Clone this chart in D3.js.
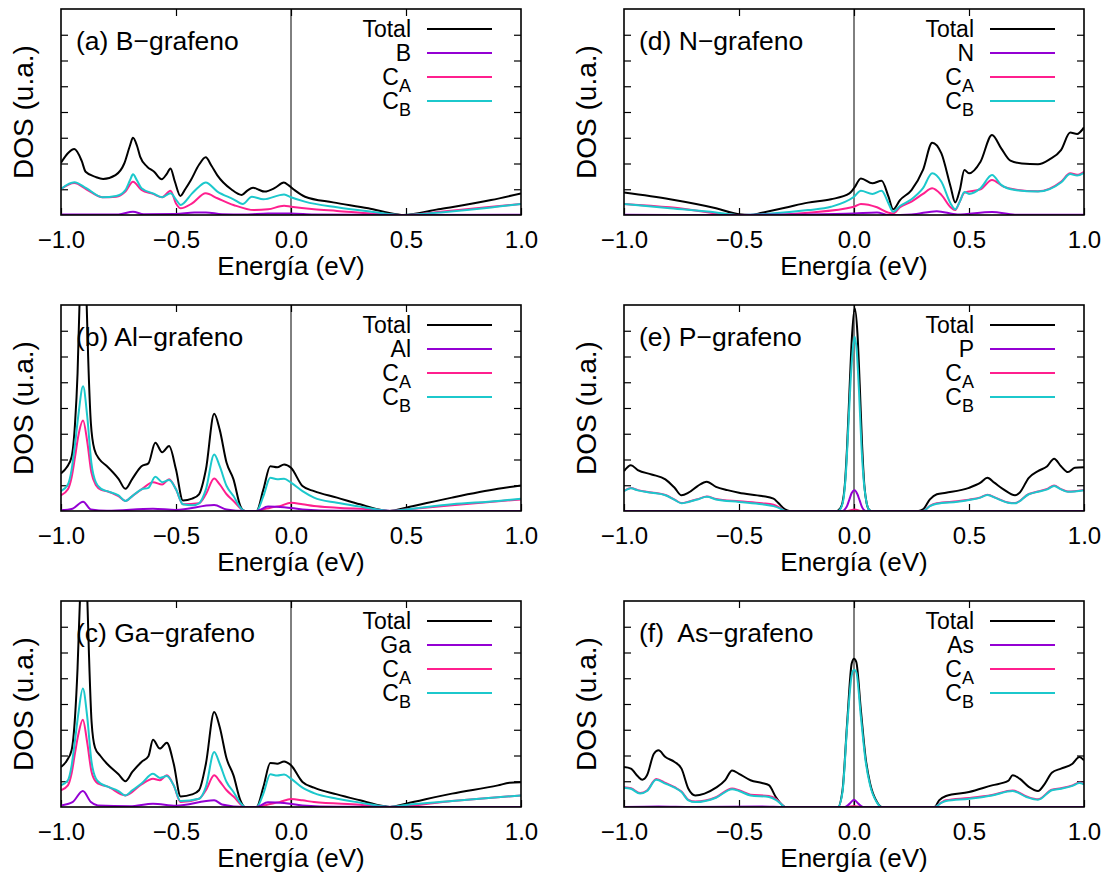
<!DOCTYPE html>
<html>
<head>
<meta charset="utf-8">
<script src="https://cdn.jsdelivr.net/npm/d3@7"></script>
<style>
  html, body { margin: 0; padding: 0; background: #fff; }
  svg text { font-family: "Liberation Sans", Arial, Helvetica, sans-serif; fill: #000; }
</style>
</head>
<body>
<svg id="chart" width="1103" height="876"></svg>
<script>
// ---- axis ticks ----
const energyTicks = [-1, -0.5, 0, 0.5, 1];
const energyTickLabels = ["\u22121.0", "\u22120.5", "0.0", "0.5", "1.0"];
const dosTicks = [1, 2, 3, 4, 5, 6, 7];
const xLabel = "Energía (eV)";
const yLabel = "DOS (u.a.)";

// ---- panel titles and dopant names ----
const panelTitles = ["(a) B\u2212grafeno", "(b) Al\u2212grafeno", "(c) Ga\u2212grafeno",
                     "(d) N\u2212grafeno", "(e) P\u2212grafeno", "(f)  As\u2212grafeno"];
const dopants = ["B", "Al", "Ga", "N", "P", "As"];

// ---- (a) B-grafeno : [E (eV), DOS] ----
const bTotal = [[-1,2.03],[-0.97,2.4],[-0.942,2.56],[-0.91,2.1],[-0.893,1.68],[-0.85,1.48],[-0.817,1.40],[-0.763,1.55],[-0.725,2.0],[-0.70,2.7],[-0.687,3.0],[-0.67,2.7],[-0.656,2.27],[-0.626,1.88],[-0.595,1.68],[-0.562,1.39],[-0.54,1.6],[-0.524,1.81],[-0.505,1.3],[-0.481,0.74],[-0.46,1.0],[-0.435,1.36],[-0.40,1.95],[-0.371,2.24],[-0.345,1.9],[-0.321,1.55],[-0.26,1.0],[-0.214,0.78],[-0.19,0.95],[-0.165,1.06],[-0.14,0.98],[-0.115,0.91],[-0.07,1.05],[-0.031,1.26],[-0.01,1.15],[0.015,0.97],[0.061,0.71],[0.183,0.49],[0.336,0.26],[0.458,0.03],[0.49,0],[0.641,0.22],[0.87,0.58],[1.0,0.84]];
const bDopant = [[-1,0.02],[-0.75,0.02],[-0.687,0.13],[-0.64,0.03],[-0.5,0.04],[-0.42,0.10],[-0.37,0.10],[-0.3,0.03],[-0.2,0.02],[-0.1,0.06],[0,0.06],[0.1,0.02],[0.49,0],[1,0.01]];
const bCA = [[-1,1.01],[-0.942,1.24],[-0.89,1.0],[-0.82,0.69],[-0.76,0.71],[-0.72,0.91],[-0.687,1.29],[-0.65,0.97],[-0.60,0.82],[-0.56,0.69],[-0.524,0.94],[-0.50,0.45],[-0.48,0.26],[-0.43,0.45],[-0.371,0.84],[-0.32,0.65],[-0.25,0.39],[-0.16,0.19],[-0.1,0.22],[-0.03,0.36],[0,0.32],[0.1,0.22],[0.2,0.16],[0.35,0.06],[0.49,0],[0.65,0.13],[0.85,0.30],[1,0.43]];
const bCB = [[-1,1.01],[-0.942,1.27],[-0.89,1.04],[-0.82,0.69],[-0.76,0.74],[-0.72,0.97],[-0.70,1.35],[-0.687,1.58],[-0.67,1.35],[-0.65,1.04],[-0.60,0.84],[-0.56,0.69],[-0.524,0.84],[-0.50,0.6],[-0.48,0.39],[-0.43,0.84],[-0.40,1.1],[-0.371,1.26],[-0.32,0.91],[-0.25,0.61],[-0.21,0.43],[-0.17,0.71],[-0.12,0.61],[-0.03,0.80],[0,0.69],[0.06,0.52],[0.2,0.30],[0.35,0.13],[0.49,0],[0.65,0.10],[0.85,0.27],[1,0.43]];

// ---- (b) Al-grafeno ----
const alTotal = [[-1,1.46],[-0.975,1.7],[-0.954,2.1],[-0.939,3.4],[-0.928,5.35],[-0.919,8.2],[-0.905,10.5],[-0.889,8.2],[-0.882,6.0],[-0.870,3.4],[-0.855,2.4],[-0.832,2.0],[-0.8,1.74],[-0.75,1.25],[-0.72,0.86],[-0.69,1.25],[-0.65,1.74],[-0.62,1.85],[-0.59,2.65],[-0.56,2.28],[-0.53,2.52],[-0.5,1.61],[-0.47,0.41],[-0.43,0.48],[-0.4,0.65],[-0.37,1.61],[-0.334,3.78],[-0.31,3.16],[-0.28,1.87],[-0.25,1.23],[-0.22,0.19],[-0.2,0],[-0.15,0],[-0.12,0.84],[-0.09,1.74],[-0.06,1.70],[-0.03,1.81],[0,1.68],[0.05,0.97],[0.1,0.77],[0.2,0.52],[0.3,0.26],[0.4,0.03],[0.43,0],[0.5,0.13],[0.7,0.52],[0.9,0.86],[1,0.99]];
const alDopant = [[-1,0.03],[-0.95,0.09],[-0.904,0.36],[-0.87,0.06],[-0.8,0.01],[-0.6,0.09],[-0.5,0.04],[-0.334,0.23],[-0.28,0.06],[-0.2,0],[-0.15,0],[-0.1,0.17],[-0.03,0.15],[0.05,0.06],[0.2,0.01],[1,0]];
const alCA = [[-1,0.61],[-0.97,0.84],[-0.954,1.3],[-0.939,2.1],[-0.925,2.9],[-0.904,3.51],[-0.886,2.7],[-0.868,1.5],[-0.848,1.0],[-0.825,0.82],[-0.8,0.77],[-0.75,0.58],[-0.72,0.39],[-0.69,0.58],[-0.65,0.84],[-0.6,1.12],[-0.56,1.03],[-0.53,1.23],[-0.5,0.84],[-0.47,0.26],[-0.4,0.30],[-0.37,0.65],[-0.334,1.26],[-0.31,1.03],[-0.28,0.65],[-0.25,0.39],[-0.2,0],[-0.15,0],[-0.12,0.06],[-0.09,0.13],[-0.05,0.19],[0,0.32],[0.05,0.26],[0.1,0.19],[0.2,0.13],[0.4,0.03],[0.43,0],[0.5,0.06],[0.7,0.22],[1,0.45]];
const alCB = [[-1,0.77],[-0.97,1.03],[-0.954,1.6],[-0.939,2.6],[-0.925,3.68],[-0.904,4.84],[-0.886,3.68],[-0.868,1.87],[-0.848,1.1],[-0.825,0.86],[-0.8,0.77],[-0.75,0.61],[-0.72,0.39],[-0.69,0.58],[-0.65,0.84],[-0.62,0.90],[-0.59,1.33],[-0.56,1.12],[-0.53,1.20],[-0.5,0.84],[-0.47,0.26],[-0.43,0.22],[-0.4,0.30],[-0.37,0.84],[-0.334,2.19],[-0.31,1.74],[-0.28,0.97],[-0.25,0.58],[-0.22,0.13],[-0.2,0],[-0.15,0],[-0.12,0.58],[-0.09,1.29],[-0.06,1.23],[-0.03,1.25],[0,1.10],[0.05,0.77],[0.1,0.52],[0.2,0.32],[0.3,0.17],[0.4,0.03],[0.43,0],[0.5,0.06],[0.7,0.26],[0.9,0.39],[1,0.48]];

// ---- (c) Ga-grafeno ----
const gaTotal = [[-1,1.55],[-0.975,1.8],[-0.954,2.2],[-0.939,3.5],[-0.928,5.4],[-0.917,8.2],[-0.902,10.5],[-0.886,8.2],[-0.879,6.1],[-0.867,3.3],[-0.852,2.3],[-0.83,2.0],[-0.8,1.68],[-0.75,1.27],[-0.72,1.0],[-0.69,1.36],[-0.65,1.75],[-0.62,1.97],[-0.6,2.61],[-0.57,2.27],[-0.54,2.50],[-0.51,1.68],[-0.48,0.41],[-0.43,0.49],[-0.4,0.65],[-0.37,1.68],[-0.334,3.69],[-0.31,3.11],[-0.28,1.88],[-0.25,1.23],[-0.22,0.26],[-0.2,0],[-0.15,0],[-0.12,0.78],[-0.09,1.71],[-0.06,1.68],[-0.03,1.77],[0,1.62],[0.05,0.97],[0.1,0.75],[0.2,0.49],[0.3,0.26],[0.4,0.04],[0.43,0],[0.5,0.13],[0.7,0.52],[0.9,0.84],[0.95,0.94],[1,0.96]];
const gaDopant = [[-1,0.06],[-0.95,0.19],[-0.905,0.62],[-0.87,0.19],[-0.84,0.06],[-0.7,0.03],[-0.6,0.13],[-0.5,0.05],[-0.334,0.26],[-0.3,0.1],[-0.2,0],[-0.15,0],[-0.1,0.18],[-0.03,0.16],[0.05,0.06],[0.2,0.01],[1,0]];
const gaCA = [[-1,0.65],[-0.97,0.84],[-0.954,1.3],[-0.939,2.1],[-0.925,2.8],[-0.905,3.39],[-0.886,2.5],[-0.868,1.4],[-0.848,0.98],[-0.825,0.86],[-0.8,0.80],[-0.72,0.45],[-0.65,0.88],[-0.6,1.10],[-0.57,1.04],[-0.54,1.23],[-0.51,0.84],[-0.48,0.19],[-0.4,0.32],[-0.37,0.65],[-0.334,1.23],[-0.31,1.0],[-0.28,0.65],[-0.25,0.41],[-0.2,0],[-0.15,0],[-0.1,0.1],[-0.05,0.19],[0,0.31],[0.05,0.26],[0.1,0.19],[0.3,0.09],[0.43,0],[0.7,0.23],[1,0.45]];
const gaCB = [[-1,0.84],[-0.97,1.04],[-0.954,1.6],[-0.939,2.6],[-0.925,3.6],[-0.905,4.60],[-0.886,3.5],[-0.868,1.8],[-0.848,1.1],[-0.825,0.9],[-0.8,0.80],[-0.75,0.62],[-0.72,0.45],[-0.69,0.65],[-0.65,0.91],[-0.6,1.29],[-0.57,1.13],[-0.54,1.20],[-0.51,0.84],[-0.48,0.23],[-0.4,0.32],[-0.37,0.78],[-0.334,2.14],[-0.31,1.68],[-0.28,0.97],[-0.25,0.58],[-0.22,0.16],[-0.2,0],[-0.15,0],[-0.12,0.52],[-0.09,1.27],[-0.06,1.22],[-0.03,1.26],[0,1.10],[0.05,0.75],[0.1,0.54],[0.2,0.32],[0.3,0.17],[0.4,0.03],[0.43,0],[0.5,0.08],[0.7,0.23],[1,0.45]];

// ---- (d) N-grafeno ----
const nTotal = [[-1,0.87],[-0.8,0.61],[-0.6,0.26],[-0.5,0.03],[-0.45,0],[-0.4,0.09],[-0.3,0.28],[-0.2,0.48],[-0.1,0.61],[-0.02,0.84],[0,1.04],[0.03,1.42],[0.08,1.23],[0.12,1.33],[0.15,0.71],[0.17,0.22],[0.2,0.58],[0.25,0.97],[0.3,1.75],[0.34,2.81],[0.38,2.39],[0.42,1.10],[0.44,0.49],[0.46,0.97],[0.48,1.75],[0.5,1.62],[0.55,2.07],[0.6,3.11],[0.64,2.59],[0.68,2.11],[0.73,2.0],[0.8,1.97],[0.85,2.16],[0.9,2.52],[0.94,3.2],[0.97,3.15],[1,3.4]];
const nDopant = [[-1,0.01],[-0.5,0],[-0.2,0.02],[0,0.06],[0.1,0.1],[0.15,0],[0.25,0.02],[0.36,0.15],[0.45,0.02],[0.6,0.12],[0.7,0.01],[1,0.01]];
const nCA = [[-1,0.43],[-0.8,0.30],[-0.5,0],[-0.4,0],[-0.2,0.09],[0,0.32],[0.03,0.43],[0.1,0.30],[0.15,0.09],[0.17,0.06],[0.2,0.30],[0.25,0.52],[0.3,0.82],[0.34,1.04],[0.38,0.78],[0.42,0.30],[0.44,0.19],[0.46,0.52],[0.48,0.87],[0.55,1.0],[0.6,1.36],[0.65,1.10],[0.7,0.99],[0.8,0.92],[0.9,1.29],[0.94,1.62],[0.97,1.56],[1,1.68]];
const nCB = [[-1,0.43],[-0.8,0.26],[-0.6,0.10],[-0.5,0],[-0.4,0.03],[-0.2,0.19],[-0.1,0.32],[0,0.71],[0.03,0.94],[0.08,0.82],[0.12,0.94],[0.15,0.45],[0.17,0.13],[0.2,0.35],[0.25,0.61],[0.3,1.04],[0.34,1.62],[0.38,1.29],[0.42,0.45],[0.44,0.22],[0.46,0.52],[0.48,0.89],[0.5,0.82],[0.55,1.04],[0.6,1.55],[0.64,1.17],[0.7,0.97],[0.8,0.91],[0.9,1.26],[0.94,1.59],[0.97,1.53],[1,1.64]];

// ---- (e) P-grafeno ----
const pTotal = [[-1,1.55],[-0.97,1.78],[-0.94,1.59],[-0.88,1.42],[-0.82,1.23],[-0.78,0.90],[-0.75,0.61],[-0.72,0.71],[-0.68,0.97],[-0.64,1.14],[-0.6,0.94],[-0.55,0.81],[-0.5,0.71],[-0.4,0.58],[-0.35,0.48],[-0.33,0.32],[-0.3,0.06],[-0.28,0],[-0.075,0],[-0.06,0.1],[-0.05,0.32],[-0.04,1.0],[-0.03,2.5],[-0.02,4.6],[-0.01,6.6],[0.003,7.87],[0.015,6.9],[0.025,4.9],[0.035,2.6],[0.045,1.0],[0.055,0.3],[0.065,0.05],[0.075,0],[0.28,0],[0.3,0.06],[0.33,0.45],[0.36,0.65],[0.4,0.71],[0.5,0.90],[0.55,1.10],[0.58,1.29],[0.61,1.10],[0.65,0.84],[0.7,0.61],[0.72,0.71],[0.76,1.29],[0.8,1.55],[0.84,1.74],[0.87,2.03],[0.9,1.74],[0.93,1.51],[0.96,1.68],[1,1.70]];
const pDopant = [[-1,0],[-0.05,0],[-0.04,0.06],[-0.03,0.2],[-0.02,0.45],[-0.01,0.7],[0.003,0.81],[0.015,0.65],[0.025,0.4],[0.035,0.15],[0.045,0.03],[0.055,0],[1,0]];
const pCA = [[-1,0.78],[-0.97,0.89],[-0.94,0.81],[-0.88,0.72],[-0.82,0.62],[-0.78,0.44],[-0.75,0.31],[-0.72,0.36],[-0.68,0.46],[-0.64,0.56],[-0.6,0.47],[-0.5,0.38],[-0.4,0.30],[-0.35,0.24],[-0.32,0.11],[-0.3,0],[-0.03,0],[0.003,0.06],[0.03,0],[0.3,0],[0.33,0.2],[0.36,0.3],[0.45,0.38],[0.5,0.44],[0.55,0.53],[0.58,0.63],[0.62,0.50],[0.67,0.33],[0.7,0.31],[0.76,0.66],[0.8,0.76],[0.84,0.86],[0.87,0.99],[0.9,0.85],[0.93,0.76],[1,0.82]];
const pCB = [[-1,0.77],[-0.97,0.88],[-0.94,0.80],[-0.88,0.71],[-0.82,0.61],[-0.78,0.43],[-0.75,0.30],[-0.72,0.35],[-0.68,0.45],[-0.64,0.55],[-0.6,0.45],[-0.5,0.35],[-0.4,0.26],[-0.35,0.19],[-0.32,0.09],[-0.3,0],[-0.07,0],[-0.055,0.15],[-0.045,0.5],[-0.035,1.5],[-0.025,3.2],[-0.015,5.0],[-0.005,6.3],[0.003,6.77],[0.012,6.2],[0.022,4.6],[0.032,2.6],[0.042,1.2],[0.052,0.45],[0.062,0.1],[0.075,0],[0.3,0],[0.33,0.19],[0.36,0.28],[0.45,0.36],[0.5,0.43],[0.55,0.52],[0.58,0.62],[0.62,0.49],[0.67,0.32],[0.7,0.30],[0.76,0.65],[0.8,0.75],[0.84,0.84],[0.87,0.97],[0.9,0.84],[0.93,0.75],[1,0.81]];

// ---- (f) As-grafeno ----
const asTotal = [[-1,1.55],[-0.97,1.49],[-0.94,1.19],[-0.92,1.06],[-0.9,1.23],[-0.87,2.07],[-0.85,2.20],[-0.82,1.94],[-0.78,1.75],[-0.75,1.49],[-0.72,0.71],[-0.69,0.45],[-0.65,0.52],[-0.6,0.75],[-0.56,1.04],[-0.53,1.42],[-0.5,1.29],[-0.45,1.04],[-0.4,0.93],[-0.37,0.85],[-0.34,0.39],[-0.31,0.06],[-0.3,0],[-0.07,0],[-0.05,0.65],[-0.03,3.24],[-0.01,5.57],[0,5.76],[0.01,5.63],[0.03,3.75],[0.05,1.94],[0.07,0.91],[0.1,0.19],[0.12,0],[0.35,0],[0.37,0.26],[0.4,0.43],[0.5,0.58],[0.6,0.84],[0.67,1.01],[0.69,1.23],[0.72,1.10],[0.76,0.78],[0.8,0.62],[0.83,0.91],[0.86,1.33],[0.9,1.49],[0.95,1.68],[0.98,1.94],[1,1.81]];
const asDopant = [[-1,0],[-0.85,0.02],[-0.7,0],[-0.4,0.02],[-0.3,0],[-0.04,0],[-0.02,0.12],[0,0.28],[0.02,0.12],[0.04,0],[1,0]];
const asCA = [[-1,0.77],[-0.97,0.73],[-0.93,0.54],[-0.9,0.64],[-0.86,1.09],[-0.82,0.94],[-0.78,0.77],[-0.75,0.60],[-0.72,0.28],[-0.69,0.21],[-0.6,0.38],[-0.53,0.72],[-0.5,0.65],[-0.45,0.48],[-0.37,0.43],[-0.34,0.32],[-0.31,0.07],[-0.3,0],[-0.03,0],[0,0.04],[0.03,0],[0.35,0],[0.38,0.18],[0.4,0.26],[0.5,0.35],[0.6,0.47],[0.69,0.64],[0.75,0.41],[0.8,0.30],[0.86,0.67],[0.9,0.73],[0.95,0.84],[0.98,0.95],[1,0.90]];
const asCB = [[-1,0.75],[-0.97,0.71],[-0.93,0.52],[-0.9,0.62],[-0.86,1.06],[-0.82,0.91],[-0.78,0.75],[-0.75,0.58],[-0.72,0.26],[-0.69,0.19],[-0.6,0.36],[-0.53,0.69],[-0.5,0.62],[-0.45,0.45],[-0.37,0.39],[-0.34,0.28],[-0.31,0.06],[-0.3,0],[-0.07,0],[-0.05,0.58],[-0.03,3.11],[-0.01,5.11],[0,5.33],[0.01,5.24],[0.03,3.50],[0.05,1.81],[0.07,0.84],[0.1,0.17],[0.12,0],[0.35,0],[0.38,0.16],[0.4,0.23],[0.5,0.32],[0.6,0.45],[0.69,0.62],[0.75,0.39],[0.8,0.28],[0.86,0.65],[0.9,0.71],[0.95,0.82],[0.98,0.93],[1,0.88]];

// ---- panel assembly (a,b,c in the left column; d,e,f in the right) ----
const panelSeries = [
  [bTotal, bDopant, bCA, bCB],
  [alTotal, alDopant, alCA, alCB],
  [gaTotal, gaDopant, gaCA, gaCB],
  [nTotal, nDopant, nCA, nCB],
  [pTotal, pDopant, pCA, pCB],
  [asTotal, asDopant, asCA, asCB]
];
const seriesColors = ["#000000", "#9400d3", "#ff1f8e", "#1cc8cc"];
const drawOrder = [0, 2, 3, 1];

const colLeft = [61, 624];
const rowTop = [9, 305, 601];
const plotW = 460, plotH = 206;

const svg = d3.select("#chart");

panelSeries.forEach((series, i) => {
  const col = Math.floor(i / 3), row = i % 3;
  const x0 = colLeft[col], y0 = rowTop[row];
  const g = svg.append("g").attr("transform", `translate(${x0},${y0})`);

  const x = d3.scaleLinear().domain([-1, 1]).range([0, plotW]);
  const y = d3.scaleLinear().domain([0, 8]).range([plotH, 0]);

  const clipId = "clip" + i;
  g.append("clipPath").attr("id", clipId)
    .append("rect").attr("width", plotW).attr("height", plotH);

  // zero-energy reference line
  g.append("line")
    .attr("x1", x(0)).attr("x2", x(0)).attr("y1", 0).attr("y2", plotH)
    .attr("stroke", "#000").attr("stroke-width", 1);

  // inward ticks on all four sides
  const tl = 7;
  g.append("g").attr("transform", `translate(0,${plotH})`)
    .call(d3.axisBottom(x).tickValues(energyTicks).tickSizeInner(-tl).tickSizeOuter(0)
      .tickFormat((d, k) => energyTickLabels[k]))
    .call(a => a.select(".domain").remove())
    .call(a => a.selectAll("text").attr("dy", null).attr("y", 33)
      .style("font-size", "24px").style("font-family", "'Liberation Sans', Arial, sans-serif"));
  g.append("g")
    .call(d3.axisTop(x).tickValues(energyTicks.slice(1, -1)).tickSizeInner(-tl).tickSizeOuter(0).tickFormat(""))
    .call(a => a.select(".domain").remove());
  g.append("g")
    .call(d3.axisLeft(y).tickValues(dosTicks).tickSizeInner(-tl).tickSizeOuter(0).tickFormat(""))
    .call(a => a.select(".domain").remove());
  g.append("g").attr("transform", `translate(${plotW},0)`)
    .call(d3.axisRight(y).tickValues(dosTicks).tickSizeInner(-tl).tickSizeOuter(0).tickFormat(""))
    .call(a => a.select(".domain").remove());
  g.selectAll(".tick line").attr("stroke", "#000").attr("stroke-width", 1.2);

  // curves
  const line = d3.line().x(d => x(d[0])).y(d => y(d[1])).curve(d3.curveMonotoneX);
  const curves = g.append("g").attr("clip-path", `url(#${clipId})`);
  drawOrder.forEach(k => {
    curves.append("path").datum(series[k])
      .attr("d", line).attr("fill", "none")
      .attr("stroke", seriesColors[k]).attr("stroke-width", 2)
      .attr("stroke-linejoin", "round");
  });

  // frame
  g.append("rect").attr("width", plotW).attr("height", plotH)
    .attr("fill", "none").attr("stroke", "#000").attr("stroke-width", 1.6);

  // panel title
  g.append("text").attr("x", 15).attr("y", 41)
    .style("font-size", "26.5px").style("white-space", "pre")
    .text(panelTitles[i]);

  // legend
  const legendRows = [
    { main: "Total", sub: null },
    { main: dopants[i], sub: null },
    { main: "C", sub: "A" },
    { main: "C", sub: "B" }
  ];
  legendRows.forEach((r, k) => {
    const ly = 20 + k * 24;
    const t = g.append("text").attr("x", 350).attr("y", ly + 8)
      .attr("text-anchor", "end").style("font-size", "23px");
    t.append("tspan").text(r.main);
    if (r.sub) t.append("tspan").attr("dy", 7).style("font-size", "18px").text(r.sub);
    g.append("line").attr("x1", 366).attr("x2", 431).attr("y1", ly).attr("y2", ly)
      .attr("stroke", seriesColors[k]).attr("stroke-width", 2);
  });

  // axis titles
  g.append("text").attr("x", plotW / 2).attr("y", plotH + 60)
    .attr("text-anchor", "middle").style("font-size", "26px").text(xLabel);
  g.append("text")
    .attr("transform", `translate(-28,${plotH / 2}) rotate(-90)`)
    .attr("text-anchor", "middle").style("font-size", "28px").text(yLabel);
});
</script>
</body>
</html>
